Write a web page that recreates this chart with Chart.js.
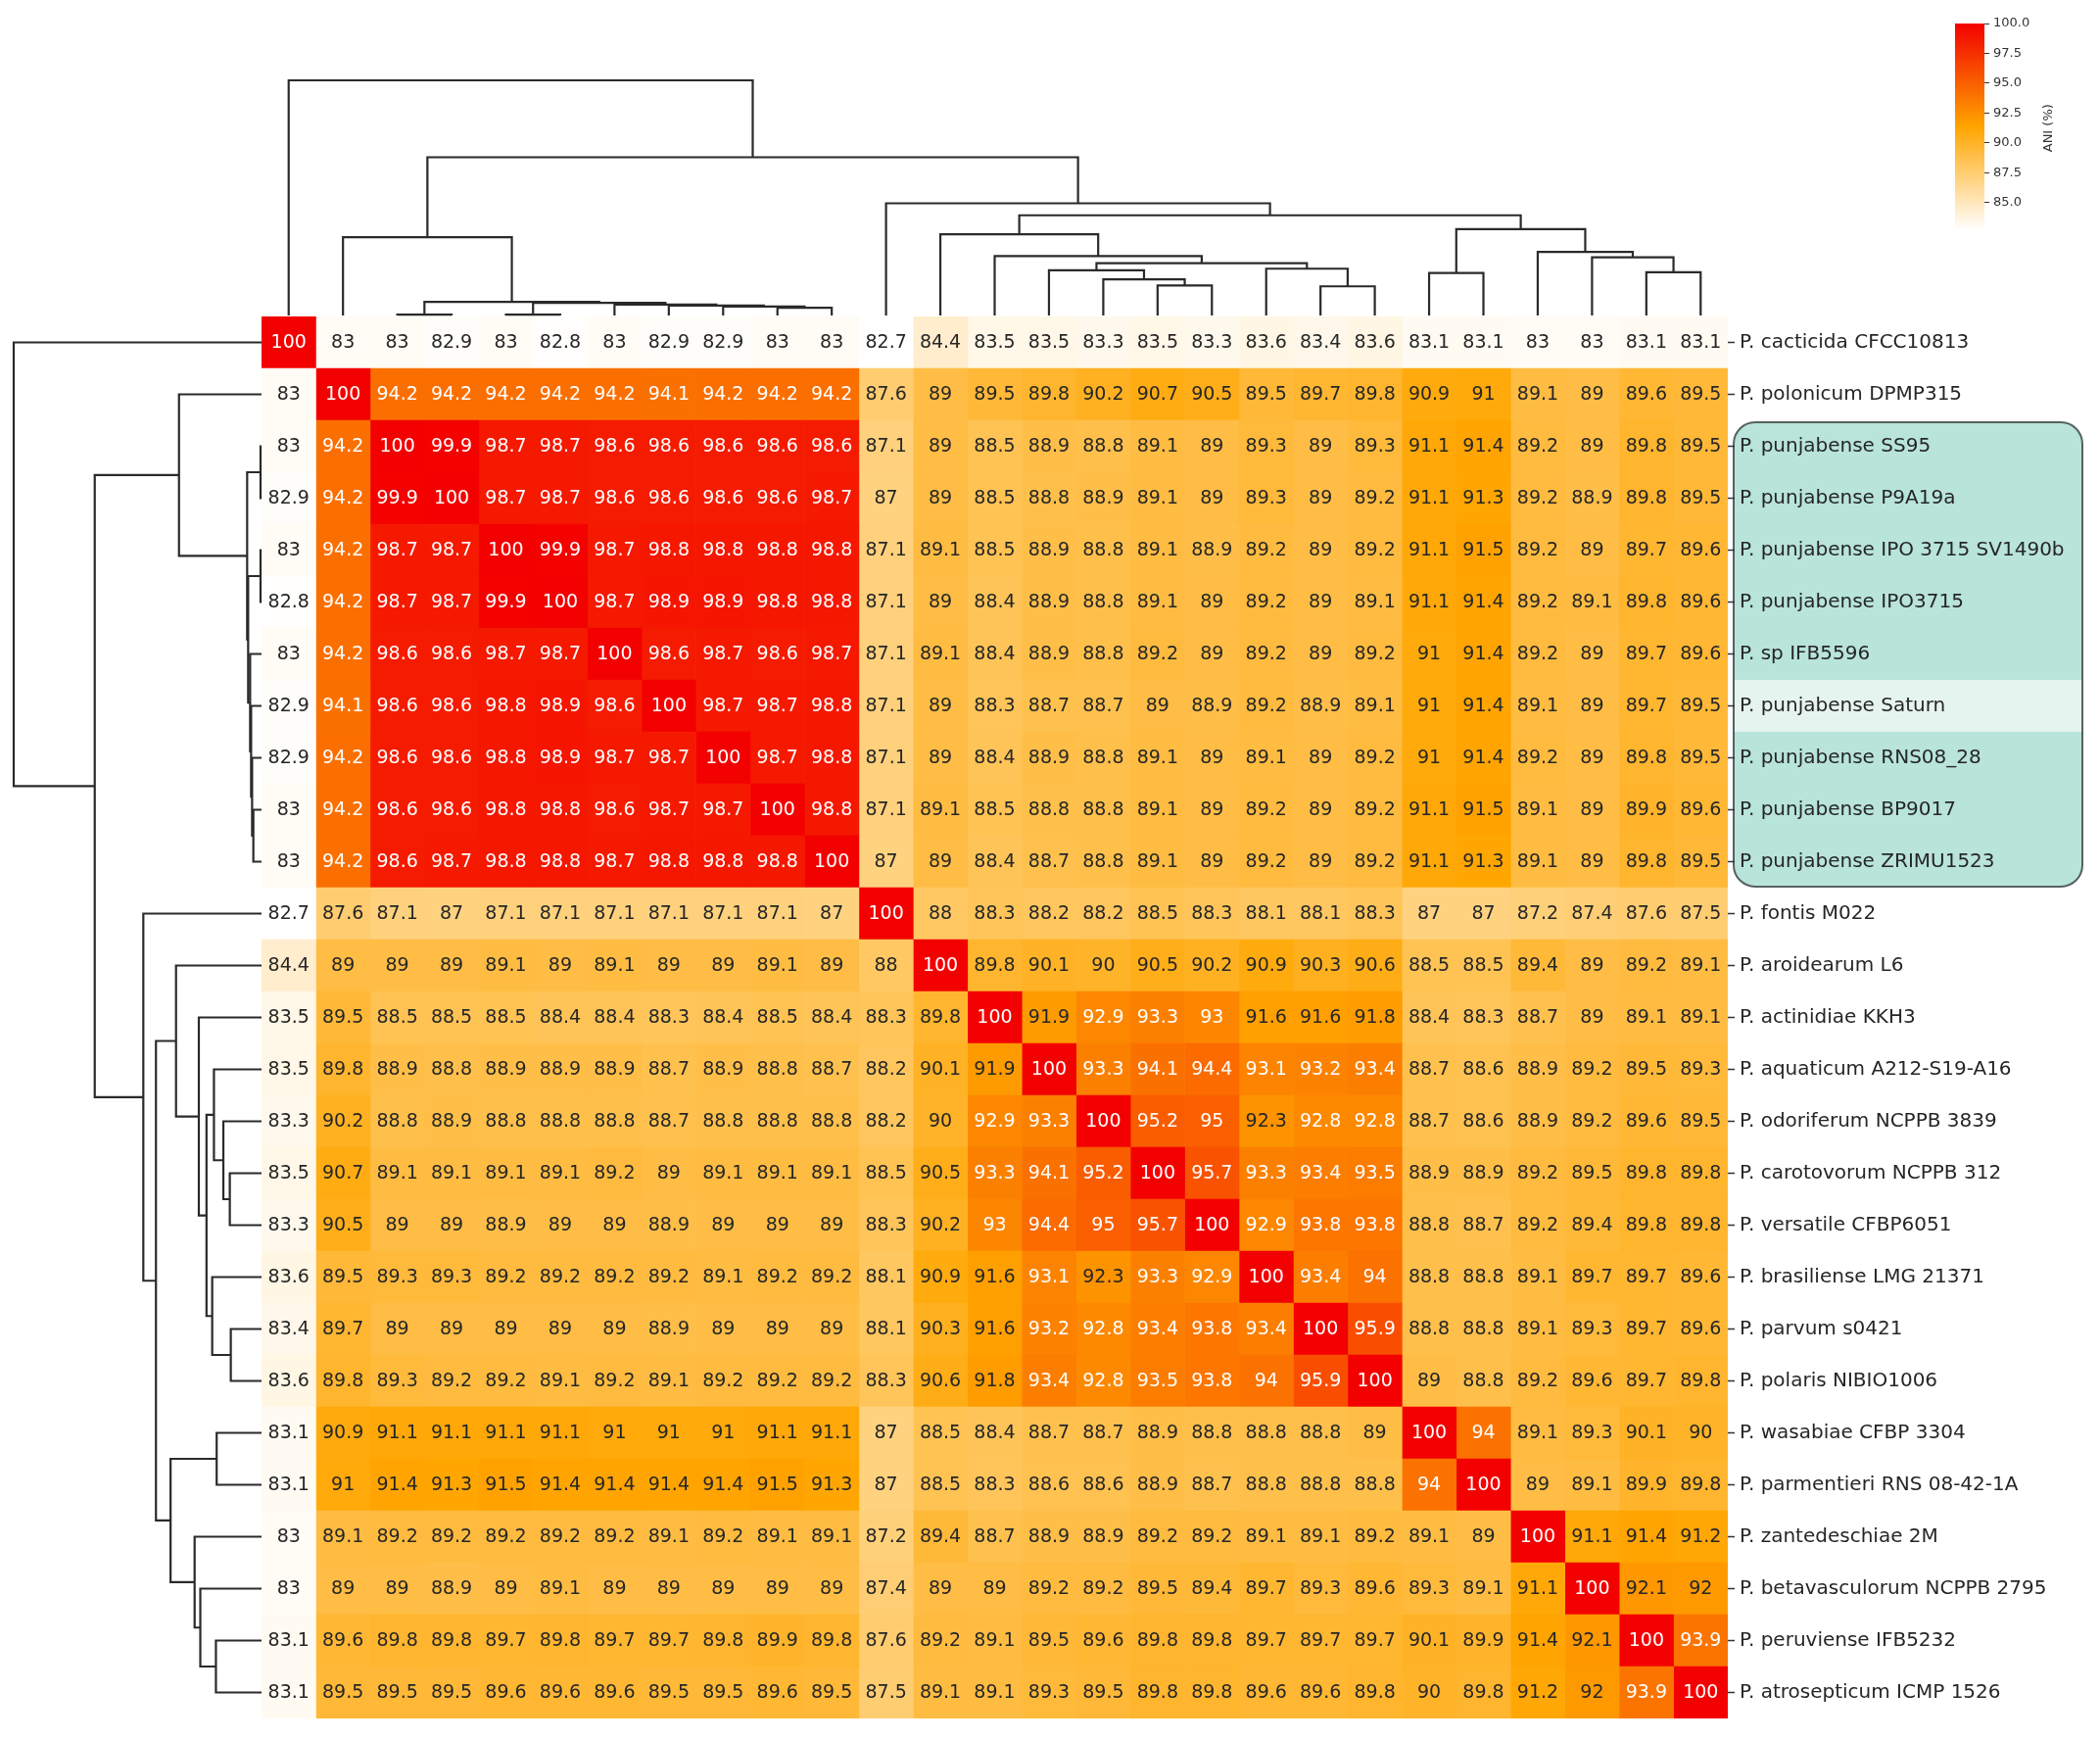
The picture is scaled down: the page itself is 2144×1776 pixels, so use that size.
<!DOCTYPE html>
<html>
<head>
<meta charset="utf-8">
<script src="https://cdn.jsdelivr.net/npm/chart.js@4.4.0/dist/chart.umd.min.js"></script>
<style>
  body { margin: 0; background: #fff; width: 2144px; height: 1776px; position: relative; overflow: hidden; }
  canvas { position: absolute; }
</style>
</head>
<body>
<canvas id="heat" width="2144" height="1776" style="left:0;top:0"></canvas>
<canvas id="topTree" width="2144" height="330" style="left:0;top:0"></canvas>
<canvas id="leftTree" width="300" height="1776" style="left:0;top:0"></canvas>
<canvas id="cbar" width="164" height="260" style="left:1980px;top:0"></canvas>
<script>
var strains = [
	"P. cacticida CFCC10813", "P. polonicum DPMP315", "P. punjabense SS95",
	"P. punjabense P9A19a", "P. punjabense IPO 3715 SV1490b", "P. punjabense IPO3715",
	"P. sp IFB5596", "P. punjabense Saturn", "P. punjabense RNS08_28",
	"P. punjabense BP9017", "P. punjabense ZRIMU1523", "P. fontis M022",
	"P. aroidearum L6", "P. actinidiae KKH3", "P. aquaticum A212-S19-A16",
	"P. odoriferum NCPPB 3839", "P. carotovorum NCPPB 312", "P. versatile CFBP6051",
	"P. brasiliense LMG 21371", "P. parvum s0421", "P. polaris NIBIO1006",
	"P. wasabiae CFBP 3304", "P. parmentieri RNS 08-42-1A", "P. zantedeschiae 2M",
	"P. betavasculorum NCPPB 2795", "P. peruviense IFB5232", "P. atrosepticum ICMP 1526",
];

// ANI (%) rows, same order as strains
var ani = [
	[100, 83, 83, 82.9, 83, 82.8, 83, 82.9, 82.9, 83, 83, 82.7, 84.4, 83.5, 83.5, 83.3, 83.5, 83.3, 83.6, 83.4, 83.6, 83.1, 83.1, 83, 83, 83.1, 83.1],
	[83, 100, 94.2, 94.2, 94.2, 94.2, 94.2, 94.1, 94.2, 94.2, 94.2, 87.6, 89, 89.5, 89.8, 90.2, 90.7, 90.5, 89.5, 89.7, 89.8, 90.9, 91, 89.1, 89, 89.6, 89.5],
	[83, 94.2, 100, 99.9, 98.7, 98.7, 98.6, 98.6, 98.6, 98.6, 98.6, 87.1, 89, 88.5, 88.9, 88.8, 89.1, 89, 89.3, 89, 89.3, 91.1, 91.4, 89.2, 89, 89.8, 89.5],
	[82.9, 94.2, 99.9, 100, 98.7, 98.7, 98.6, 98.6, 98.6, 98.6, 98.7, 87, 89, 88.5, 88.8, 88.9, 89.1, 89, 89.3, 89, 89.2, 91.1, 91.3, 89.2, 88.9, 89.8, 89.5],
	[83, 94.2, 98.7, 98.7, 100, 99.9, 98.7, 98.8, 98.8, 98.8, 98.8, 87.1, 89.1, 88.5, 88.9, 88.8, 89.1, 88.9, 89.2, 89, 89.2, 91.1, 91.5, 89.2, 89, 89.7, 89.6],
	[82.8, 94.2, 98.7, 98.7, 99.9, 100, 98.7, 98.9, 98.9, 98.8, 98.8, 87.1, 89, 88.4, 88.9, 88.8, 89.1, 89, 89.2, 89, 89.1, 91.1, 91.4, 89.2, 89.1, 89.8, 89.6],
	[83, 94.2, 98.6, 98.6, 98.7, 98.7, 100, 98.6, 98.7, 98.6, 98.7, 87.1, 89.1, 88.4, 88.9, 88.8, 89.2, 89, 89.2, 89, 89.2, 91, 91.4, 89.2, 89, 89.7, 89.6],
	[82.9, 94.1, 98.6, 98.6, 98.8, 98.9, 98.6, 100, 98.7, 98.7, 98.8, 87.1, 89, 88.3, 88.7, 88.7, 89, 88.9, 89.2, 88.9, 89.1, 91, 91.4, 89.1, 89, 89.7, 89.5],
	[82.9, 94.2, 98.6, 98.6, 98.8, 98.9, 98.7, 98.7, 100, 98.7, 98.8, 87.1, 89, 88.4, 88.9, 88.8, 89.1, 89, 89.1, 89, 89.2, 91, 91.4, 89.2, 89, 89.8, 89.5],
	[83, 94.2, 98.6, 98.6, 98.8, 98.8, 98.6, 98.7, 98.7, 100, 98.8, 87.1, 89.1, 88.5, 88.8, 88.8, 89.1, 89, 89.2, 89, 89.2, 91.1, 91.5, 89.1, 89, 89.9, 89.6],
	[83, 94.2, 98.6, 98.7, 98.8, 98.8, 98.7, 98.8, 98.8, 98.8, 100, 87, 89, 88.4, 88.7, 88.8, 89.1, 89, 89.2, 89, 89.2, 91.1, 91.3, 89.1, 89, 89.8, 89.5],
	[82.7, 87.6, 87.1, 87, 87.1, 87.1, 87.1, 87.1, 87.1, 87.1, 87, 100, 88, 88.3, 88.2, 88.2, 88.5, 88.3, 88.1, 88.1, 88.3, 87, 87, 87.2, 87.4, 87.6, 87.5],
	[84.4, 89, 89, 89, 89.1, 89, 89.1, 89, 89, 89.1, 89, 88, 100, 89.8, 90.1, 90, 90.5, 90.2, 90.9, 90.3, 90.6, 88.5, 88.5, 89.4, 89, 89.2, 89.1],
	[83.5, 89.5, 88.5, 88.5, 88.5, 88.4, 88.4, 88.3, 88.4, 88.5, 88.4, 88.3, 89.8, 100, 91.9, 92.9, 93.3, 93, 91.6, 91.6, 91.8, 88.4, 88.3, 88.7, 89, 89.1, 89.1],
	[83.5, 89.8, 88.9, 88.8, 88.9, 88.9, 88.9, 88.7, 88.9, 88.8, 88.7, 88.2, 90.1, 91.9, 100, 93.3, 94.1, 94.4, 93.1, 93.2, 93.4, 88.7, 88.6, 88.9, 89.2, 89.5, 89.3],
	[83.3, 90.2, 88.8, 88.9, 88.8, 88.8, 88.8, 88.7, 88.8, 88.8, 88.8, 88.2, 90, 92.9, 93.3, 100, 95.2, 95, 92.3, 92.8, 92.8, 88.7, 88.6, 88.9, 89.2, 89.6, 89.5],
	[83.5, 90.7, 89.1, 89.1, 89.1, 89.1, 89.2, 89, 89.1, 89.1, 89.1, 88.5, 90.5, 93.3, 94.1, 95.2, 100, 95.7, 93.3, 93.4, 93.5, 88.9, 88.9, 89.2, 89.5, 89.8, 89.8],
	[83.3, 90.5, 89, 89, 88.9, 89, 89, 88.9, 89, 89, 89, 88.3, 90.2, 93, 94.4, 95, 95.7, 100, 92.9, 93.8, 93.8, 88.8, 88.7, 89.2, 89.4, 89.8, 89.8],
	[83.6, 89.5, 89.3, 89.3, 89.2, 89.2, 89.2, 89.2, 89.1, 89.2, 89.2, 88.1, 90.9, 91.6, 93.1, 92.3, 93.3, 92.9, 100, 93.4, 94, 88.8, 88.8, 89.1, 89.7, 89.7, 89.6],
	[83.4, 89.7, 89, 89, 89, 89, 89, 88.9, 89, 89, 89, 88.1, 90.3, 91.6, 93.2, 92.8, 93.4, 93.8, 93.4, 100, 95.9, 88.8, 88.8, 89.1, 89.3, 89.7, 89.6],
	[83.6, 89.8, 89.3, 89.2, 89.2, 89.1, 89.2, 89.1, 89.2, 89.2, 89.2, 88.3, 90.6, 91.8, 93.4, 92.8, 93.5, 93.8, 94, 95.9, 100, 89, 88.8, 89.2, 89.6, 89.7, 89.8],
	[83.1, 90.9, 91.1, 91.1, 91.1, 91.1, 91, 91, 91, 91.1, 91.1, 87, 88.5, 88.4, 88.7, 88.7, 88.9, 88.8, 88.8, 88.8, 89, 100, 94, 89.1, 89.3, 90.1, 90],
	[83.1, 91, 91.4, 91.3, 91.5, 91.4, 91.4, 91.4, 91.4, 91.5, 91.3, 87, 88.5, 88.3, 88.6, 88.6, 88.9, 88.7, 88.8, 88.8, 88.8, 94, 100, 89, 89.1, 89.9, 89.8],
	[83, 89.1, 89.2, 89.2, 89.2, 89.2, 89.2, 89.1, 89.2, 89.1, 89.1, 87.2, 89.4, 88.7, 88.9, 88.9, 89.2, 89.2, 89.1, 89.1, 89.2, 89.1, 89, 100, 91.1, 91.4, 91.2],
	[83, 89, 89, 88.9, 89, 89.1, 89, 89, 89, 89, 89, 87.4, 89, 89, 89.2, 89.2, 89.5, 89.4, 89.7, 89.3, 89.6, 89.3, 89.1, 91.1, 100, 92.1, 92],
	[83.1, 89.6, 89.8, 89.8, 89.7, 89.8, 89.7, 89.7, 89.8, 89.9, 89.8, 87.6, 89.2, 89.1, 89.5, 89.6, 89.8, 89.8, 89.7, 89.7, 89.7, 90.1, 89.9, 91.4, 92.1, 100, 93.9],
	[83.1, 89.5, 89.5, 89.5, 89.6, 89.6, 89.6, 89.5, 89.5, 89.6, 89.5, 87.5, 89.1, 89.1, 89.3, 89.5, 89.8, 89.8, 89.6, 89.6, 89.8, 90, 89.8, 91.2, 92, 93.9, 100],
];

// linkage: [left, right, height]; ids from 27 up are earlier merges (root height = 1)
var merges = [
	[2, 3, 0.004], [4, 5, 0.004], [9, 10, 0.033], [8, 29, 0.038],
	[7, 30, 0.042], [6, 31, 0.046], [28, 32, 0.054], [27, 33, 0.058],
	[19, 20, 0.124], [16, 17, 0.128], [15, 36, 0.154], [21, 22, 0.181],
	[25, 26, 0.184], [14, 37, 0.192], [18, 35, 0.199], [40, 41, 0.222],
	[24, 39, 0.247], [13, 42, 0.253], [23, 43, 0.27], [1, 34, 0.333],
	[12, 44, 0.345], [38, 45, 0.367], [47, 48, 0.426], [11, 49, 0.477],
	[46, 50, 0.673], [0, 51, 1.0],
];

var colorbarTicks = [85, 87.5, 90, 92.5, 95, 97.5, 100];
var vmin = 82.7;
var vmax = 100;
var boxRows = [2, 10]; // punjabense group
var brightRow = 7; // Saturn

var n = strains.length;
var lineColor = "#2a2a2a";

Chart.defaults.font.family = "'DejaVu Sans', sans-serif";
Chart.defaults.color = "#262626";

function cmap(v) {
	var t = Math.min(1, Math.max(0, (v - vmin) / (vmax - vmin)));
	var f;
	if (t < 0.5) {
		f = t / 0.5;
		return [255, 255 - 90 * f, 255 - 255 * f];
	}
	f = (t - 0.5) / 0.5;
	return [255 - 12 * f, 165 * (1 - f), 0];
}
function rgb(c) {
	return "rgb(" + c.map(Math.round).join(",") + ")";
}
function textColor(c) {
	var lin = c.map(function (u) {
		u = u / 255;
		return u <= 0.03928 ? u / 12.92 : Math.pow((u + 0.055) / 1.055, 2.4);
	});
	var lum = 0.2126 * lin[0] + 0.7152 * lin[1] + 0.0722 * lin[2];
	return lum > 0.39 ? "#262626" : "#ffffff";
}

// heatmap: one stacked bar dataset per column
var cells = [];
for (var j = 0; j < n; j++) {
	cells.push({
		data: strains.map(function () { return 1; }),
		backgroundColor: ani.map(function (row) { return rgb(cmap(row[j])); }),
		borderWidth: 0,
		barPercentage: 1,
		categoryPercentage: 1,
	});
}

var annotate = {
	id: "annotate",
	afterDatasetsDraw: function (chart) {
		var ctx = chart.ctx, xs = chart.scales.x, ys = chart.scales.y;
		ctx.save();
		ctx.font = "19px 'DejaVu Sans'";
		ctx.textAlign = "center";
		ctx.textBaseline = "middle";
		ani.forEach(function (row, i) {
			row.forEach(function (v, k) {
				ctx.fillStyle = textColor(cmap(v));
				ctx.fillText(String(v), xs.getPixelForValue(k + 0.5), ys.getPixelForValue(i) + 1);
			});
		});
		ctx.restore();
	},
};

var highlight = {
	id: "highlight",
	beforeDraw: function (chart) {
		var ctx = chart.ctx, ys = chart.scales.y;
		var half = (ys.getPixelForValue(1) - ys.getPixelForValue(0)) / 2;
		var top = ys.getPixelForValue(boxRows[0]) - half + 2;
		var bottom = ys.getPixelForValue(boxRows[1]) + half - 1;
		var left = chart.chartArea.right + 6;
		var right = 2126;
		ctx.save();
		ctx.beginPath();
		ctx.roundRect(left, top, right - left, bottom - top, 22);
		ctx.fillStyle = "#b8e4da";
		ctx.fill();
		ctx.clip();
		ctx.fillStyle = "#e6f4f0";
		var sy = ys.getPixelForValue(brightRow);
		ctx.fillRect(left, sy - half, right - left, 2 * half);
		ctx.restore();
		ctx.save();
		ctx.beginPath();
		ctx.roundRect(left, top, right - left, bottom - top, 22);
		ctx.lineWidth = 2;
		ctx.strokeStyle = "#56625f";
		ctx.stroke();
		ctx.restore();
	},
};

new Chart(document.getElementById("heat"), {
	type: "bar",
	data: { labels: strains, datasets: cells },
	options: {
		indexAxis: "y",
		responsive: false,
		devicePixelRatio: 1,
		animation: false,
		layout: { padding: { left: 267, top: 323, bottom: 22, right: 0 } },
		plugins: { legend: { display: false }, tooltip: { enabled: false } },
		scales: {
			x: { display: false, stacked: true, min: 0, max: n },
			y: {
				position: "right",
				stacked: true,
				grid: { offset: false, drawOnChartArea: false, tickLength: 7, color: "#333", tickColor: "#333", tickWidth: 1.5 },
				border: { display: false },
				ticks: { font: { size: 20 }, color: "#262626", padding: 5, autoSkip: false },
				afterFit: function (s) { s.width = 380; },
			},
		},
	},
	plugins: [highlight, annotate],
});

// dendrogram segments from the linkage, leaves at i + 0.5
function treeSegments() {
	var pos = [], h = [];
	for (var i = 0; i < n; i++) {
		pos[i] = i + 0.5;
		h[i] = 0;
	}
	return merges.map(function (m, k) {
		var a = m[0], b = m[1], id = n + k;
		pos[id] = (pos[a] + pos[b]) / 2;
		h[id] = m[2];
		return [[pos[a], h[a]], [pos[a], m[2]], [pos[b], m[2]], [pos[b], h[b]]];
	});
}
var segs = treeSegments();

function treeSets(flip) {
	return segs.map(function (s) {
		return {
			data: s.map(function (p) { return flip ? { x: p[1], y: p[0] } : { x: p[0], y: p[1] }; }),
			showLine: true,
			pointRadius: 0,
			borderColor: lineColor,
			borderWidth: 2.2,
			clip: false,
		};
	});
}

new Chart(document.getElementById("topTree"), {
	type: "scatter",
	data: { datasets: treeSets(false) },
	options: {
		responsive: false,
		devicePixelRatio: 1,
		animation: false,
		layout: { padding: { left: 267, right: 380, top: 82, bottom: 8 } },
		plugins: { legend: { display: false }, tooltip: { enabled: false } },
		scales: {
			x: { type: "linear", min: 0, max: n, display: false },
			y: { type: "linear", min: 0, max: 1, display: false },
		},
	},
});

new Chart(document.getElementById("leftTree"), {
	type: "scatter",
	data: { datasets: treeSets(true) },
	options: {
		responsive: false,
		devicePixelRatio: 1,
		animation: false,
		layout: { padding: { left: 14, right: 33, top: 323, bottom: 22 } },
		plugins: { legend: { display: false }, tooltip: { enabled: false } },
		scales: {
			x: { type: "linear", min: 0, max: 1, reverse: true, display: false },
			y: { type: "linear", min: 0, max: n, reverse: true, display: false },
		},
	},
});

// colour bar
var cbarTitle = {
	id: "cbarTitle",
	afterDraw: function (chart) {
		var ctx = chart.ctx, ys = chart.scales.y;
		ctx.save();
		ctx.translate(112, (ys.getPixelForValue(92.5) + ys.getPixelForValue(90)) / 2);
		ctx.rotate(-Math.PI / 2);
		ctx.font = "13px 'DejaVu Sans'";
		ctx.fillStyle = "#333";
		ctx.textAlign = "center";
		ctx.textBaseline = "middle";
		ctx.fillText("ANI (%)", 0, 0);
		ctx.restore();
	},
};

new Chart(document.getElementById("cbar"), {
	type: "bar",
	data: {
		labels: [""],
		datasets: [{
			data: [[vmin, vmax]],
			backgroundColor: function (c) {
				var chart = c.chart;
				if (!chart.chartArea) return null;
				var ys = chart.scales.y;
				var g = chart.ctx.createLinearGradient(0, ys.getPixelForValue(vmin), 0, ys.getPixelForValue(vmax));
				for (var s = 0; s <= 20; s++) {
					g.addColorStop(s / 20, rgb(cmap(vmin + (vmax - vmin) * s / 20)));
				}
				return g;
			},
			borderWidth: 0,
			barPercentage: 1,
			categoryPercentage: 1,
		}],
	},
	options: {
		responsive: false,
		devicePixelRatio: 1,
		animation: false,
		layout: { padding: { left: 16, top: 24, bottom: 25, right: 0 } },
		plugins: { legend: { display: false }, tooltip: { enabled: false } },
		scales: {
			x: { display: false },
			y: {
				position: "right",
				min: vmin,
				max: vmax,
				afterBuildTicks: function (s) {
					s.ticks = colorbarTicks.map(function (v) { return { value: v }; });
				},
				ticks: {
					callback: function (v) { return v.toFixed(1); },
					font: { size: 13 },
					color: "#333",
					padding: 4,
				},
				grid: { drawOnChartArea: false, tickLength: 5, color: "#333" },
				border: { display: false },
				afterFit: function (s) { s.width = 118; },
			},
		},
	},
	plugins: [cbarTitle],
});
</script>
</body>
</html>
